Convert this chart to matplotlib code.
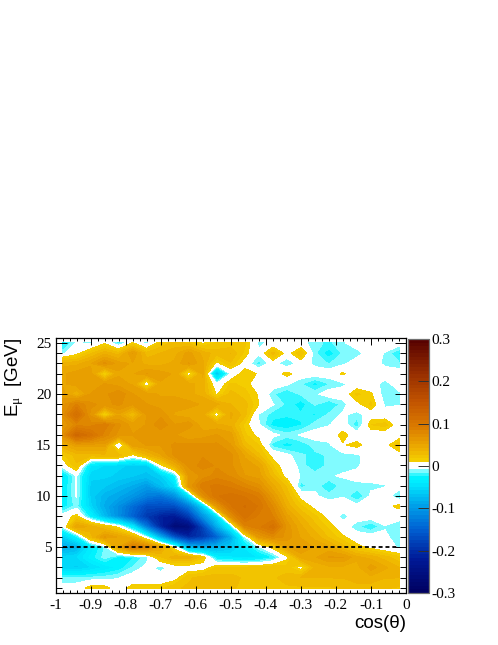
import numpy as np
import matplotlib
matplotlib.use("Agg")
import matplotlib.pyplot as plt
from matplotlib.colors import BoundaryNorm, ListedColormap
from matplotlib.ticker import FixedLocator

W, H = 498, 645

COS_THETA = [-0.98, -0.94, -0.90, -0.86, -0.82, -0.78, -0.74, -0.70, -0.66, -0.62, -0.58, -0.54, -0.50,
             -0.46, -0.42, -0.38, -0.34, -0.30, -0.26, -0.22, -0.18, -0.14, -0.10, -0.06, -0.02]
E_MU = [25, 24, 23, 22, 21, 20, 19, 18, 17, 16, 15, 14, 13, 12, 11, 10, 9, 8, 7, 6, 5, 4, 3, 2, 1]

# asymmetry in units of 0.001, top row is 25 GeV
ASYM = [
    [-30, -5, -10, 8, -20, 12, -12, 20, 30, 25, 8, 20, 20, 20, -10, -3, 0, -3, -12, -18, -9, 0, -2, 0, 0],
    [-10, 5, 25, 40, 30, 60, 30, 35, 40, 55, 40, 30, 35, 15, -5, 30, 3, 25, -14, -30, -14, -12, 0, -8, -25],
    [40, 40, 50, 70, 55, 50, 40, 40, 45, 60, 45, 5, 25, 2, -20, 0, -18, 0, -10, -16, -10, 0, 0, -10, -14],
    [50, 55, 55, 6, 50, 50, 60, 55, 50, 0, 45, -70, -6, 18, 8, 0, 15, 0, 0, 0, 12, 0, 0, 0, 0],
    [50, 55, 55, 60, 55, 50, -6, 50, 45, 45, 40, -5, 20, 15, 0, 0, -5, -15, -28, -16, -10, 0, 0, -12, 0],
    [55, 35, 60, 65, 75, 60, 55, 50, 50, 45, 40, 8, 30, 22, 8, -14, -25, -14, -10, 0, 0, 20, 12, -15, -10],
    [65, 85, 70, 65, 70, 60, 60, 55, 55, 55, 50, 45, 35, 30, 10, -6, -18, -30, -14, -25, -12, 5, 20, -10, -8],
    [70, 110, 65, 5, 50, 25, 60, 65, 50, 45, 45, 0, 45, 30, -8, -20, -22, -22, -25, -14, -5, -12, 0, 0, 0],
    [60, 80, 80, 90, 70, 55, 60, 75, 60, 65, 45, 45, 40, 15, -6, -28, -32, -25, -12, -8, 0, -22, 18, 22, 0],
    [70, 120, 105, 80, 65, 60, 60, 60, 60, 50, 55, 60, 55, 20, 5, -3, -12, -6, -2, 0, 15, 0, 0, 0, 0],
    [40, 55, 55, 55, -15, 55, 60, 60, 70, 70, 70, 70, 60, 30, 18, -20, -28, -22, -12, -10, 8, 15, 0, 3, 25],
    [15, 30, 30, 32, 32, 5, 32, 50, 70, 70, 75, 70, 70, 50, 28, 5, -4, -14, -18, -14, -12, -10, 0, -8, 0],
    [0, 25, -40, -50, -55, -60, -60, 5, 40, 70, 80, 75, 70, 55, 50, 18, 0, -10, -25, -12, -10, -9, 0, 0, 0],
    [-40, -6, -55, -55, -60, -65, -70, -60, -25, 60, 70, 80, 75, 60, 55, 30, 3, -8, -10, -8, -6, -3, -3, 0, 0],
    [-35, -6, -60, -65, -75, -85, -100, -75, -50, 60, 90, 95, 90, 80, 70, 45, 25, -20, -10, -25, -11, -10, -9, -8, 0],
    [-35, -6, -60, -80, -90, -105, -125, -135, -110, -50, 70, 100, 105, 100, 90, 60, 32, 5, -5, -12, -8, -25, -5, 0, -18],
    [-30, -12, -55, -85, -110, -140, -170, -170, -170, -130, -60, 60, 100, 110, 100, 75, 40, 20, 5, 0, 0, -3, 0, 3, 15],
    [0, 15, -30, -75, -110, -150, -190, -215, -225, -190, -110, -50, 70, 105, 90, 85, 55, 35, 20, 5, -12, 0, 0, 0, -5],
    [-5, 50, 40, 25, 5, -40, -130, -210, -270, -260, -180, -90, -30, 80, 90, 105, 65, 45, 30, 15, 0, -14, -25, -8, -10],
    [-60, -30, 30, 60, 50, 35, -10, -90, -170, -210, -190, -150, -90, -10, 60, 75, 65, 50, 40, 25, 12, 0, 0, -5, -12],
    [-90, -80, -40, -15, 50, 90, 80, 50, 0, -80, -90, -80, -65, -40, -10, 15, 50, 60, 50, 45, 30, 15, 5, -3, -8],
    [-55, -50, -30, -12, -30, -25, -12, 25, 40, 40, 20, -35, -40, -45, -40, -25, 5, 45, 50, 60, 60, 45, 40, 30, 20],
    [-55, -60, -50, -40, -30, -15, -3, -12, 0, 0, 0, 20, 20, 20, 22, 25, 22, 3, 35, 40, 40, 40, 55, 45, 35],
    [-15, -15, -14, -12, -8, 0, 0, 0, 3, 25, 30, 30, 30, 25, 25, 25, 30, 35, 35, 35, 35, 40, 40, 35, 35],
    [0, 0, 15, 15, 0, 15, 15, 15, 25, 28, 30, 30, 30, 20, 22, 22, 25, 25, 25, 25, 28, 30, 30, 28, 25],
]

X_TICKS = [-1, -0.9, -0.8, -0.7, -0.6, -0.5, -0.4, -0.3, -0.2, -0.1, 0]
X_LABELS = ["-1", "-0.9", "-0.8", "-0.7", "-0.6", "-0.5", "-0.4", "-0.3", "-0.2", "-0.1", "0"]
Y_TICKS = [5, 10, 15, 20, 25]
CBAR_TICKS = [-0.3, -0.2, -0.1, 0, 0.1, 0.2, 0.3]
CBAR_LABELS = ["-0.3", "-0.2", "-0.1", "0", "0.1", "0.2", "0.3"]


def build_palette():
    """Stepped palette: blues below zero, white band, oranges above."""
    neg = np.linspace(-0.3, -0.007, 36)
    pos = np.linspace(0.01, 0.3, 36)
    levels = np.concatenate([neg, pos])
    anchors = [
        (-0.30, (0, 0, 95)), (-0.22, (0, 25, 150)), (-0.15, (0, 95, 210)), (-0.09, (0, 165, 235)),
        (-0.04, (0, 235, 255)), (-0.025, (0, 245, 255)), (-0.012, (120, 250, 255)), (-0.007, (175, 255, 255)),
        (0.01, (245, 210, 0)), (0.04, (238, 175, 0)), (0.09, (220, 125, 0)), (0.15, (195, 85, 0)),
        (0.22, (150, 45, 0)), (0.30, (85, 0, 0)),
    ]
    xs = [a[0] for a in anchors]
    colors = []
    for lo, hi in zip(levels[:-1], levels[1:]):
        if lo < 0 < hi:
            colors.append((1, 1, 1))
            continue
        mid = (lo + hi) / 2
        colors.append(tuple(np.interp(mid, xs, [a[1][c] for a in anchors]) / 255 for c in range(3)))
    return levels, ListedColormap(colors)


def main():
    plt.rcParams["font.family"] = ["Liberation Serif", "DejaVu Serif"]
    plt.rcParams["mathtext.fontset"] = "custom"
    plt.rcParams["mathtext.rm"] = "Liberation Sans"
    plt.rcParams["mathtext.it"] = "Liberation Serif"

    fig = plt.figure(figsize=(W / 100, H / 100), dpi=100)
    ax = fig.add_axes([55.5 / W, 1 - 593 / H, 350.5 / W, 255 / H])
    cax = fig.add_axes([408 / W, 1 - 593 / H, 21 / W, 254 / H])

    levels, cmap = build_palette()
    norm = BoundaryNorm(levels, cmap.N)
    z = np.array(ASYM) / 1000.0
    cs = ax.contourf(COS_THETA, E_MU, z, levels=levels, cmap=cmap, norm=norm, extend="neither")
    cs.set_edgecolor("face")
    cs.set_linewidth(0.2)
    ax.plot([COS_THETA[0], COS_THETA[-1]], [5, 5], color="black", lw=1.3, ls=(0, (2.2, 1.6)))

    ax.set_xlim(-1, 0)
    ax.set_ylim(0.5, 25.5)
    ax.set_xticks(X_TICKS, X_LABELS)
    ax.set_yticks(Y_TICKS)
    ax.xaxis.set_minor_locator(FixedLocator(np.arange(-1, 0.001, 0.02)))
    ax.yaxis.set_minor_locator(FixedLocator(np.arange(1, 26)))
    ax.tick_params(axis="x", which="major", direction="in", length=5, width=0.7, top=True, labelsize=11, pad=4)
    ax.tick_params(axis="x", which="minor", direction="in", length=2.5, width=0.7, top=True)
    ax.tick_params(axis="y", which="major", direction="in", length=8, width=0.7, right=True, labelsize=11, pad=3)
    ax.tick_params(axis="y", which="minor", direction="in", length=4.2, width=0.7, right=True)
    for spine in ax.spines.values():
        spine.set_linewidth(0.9)

    cb = fig.colorbar(cs, cax=cax, ticks=CBAR_TICKS, spacing="proportional")
    cb.ax.set_yticklabels(CBAR_LABELS)
    cb.ax.tick_params(direction="in", length=8, width=0.7, labelsize=11, pad=2, color="#303030")
    cb.ax.minorticks_off()
    cb.outline.set_edgecolor("#707070")
    cb.outline.set_linewidth(0.9)

    fig.text(406 / W, 1 - 623 / H, "cos(\u03b8)", family="Liberation Sans", fontsize=13.5, ha="right", va="center")
    fig.text(15 / W, 1 - 338 / H, r"$\mathrm{E}_{\mathit{\mu}}$  [GeV]", family="Liberation Sans", fontsize=13.5,
             rotation=90, ha="center", va="top")

    fig.savefig("out.png", dpi=100, facecolor="white")


if __name__ == "__main__":
    main()
